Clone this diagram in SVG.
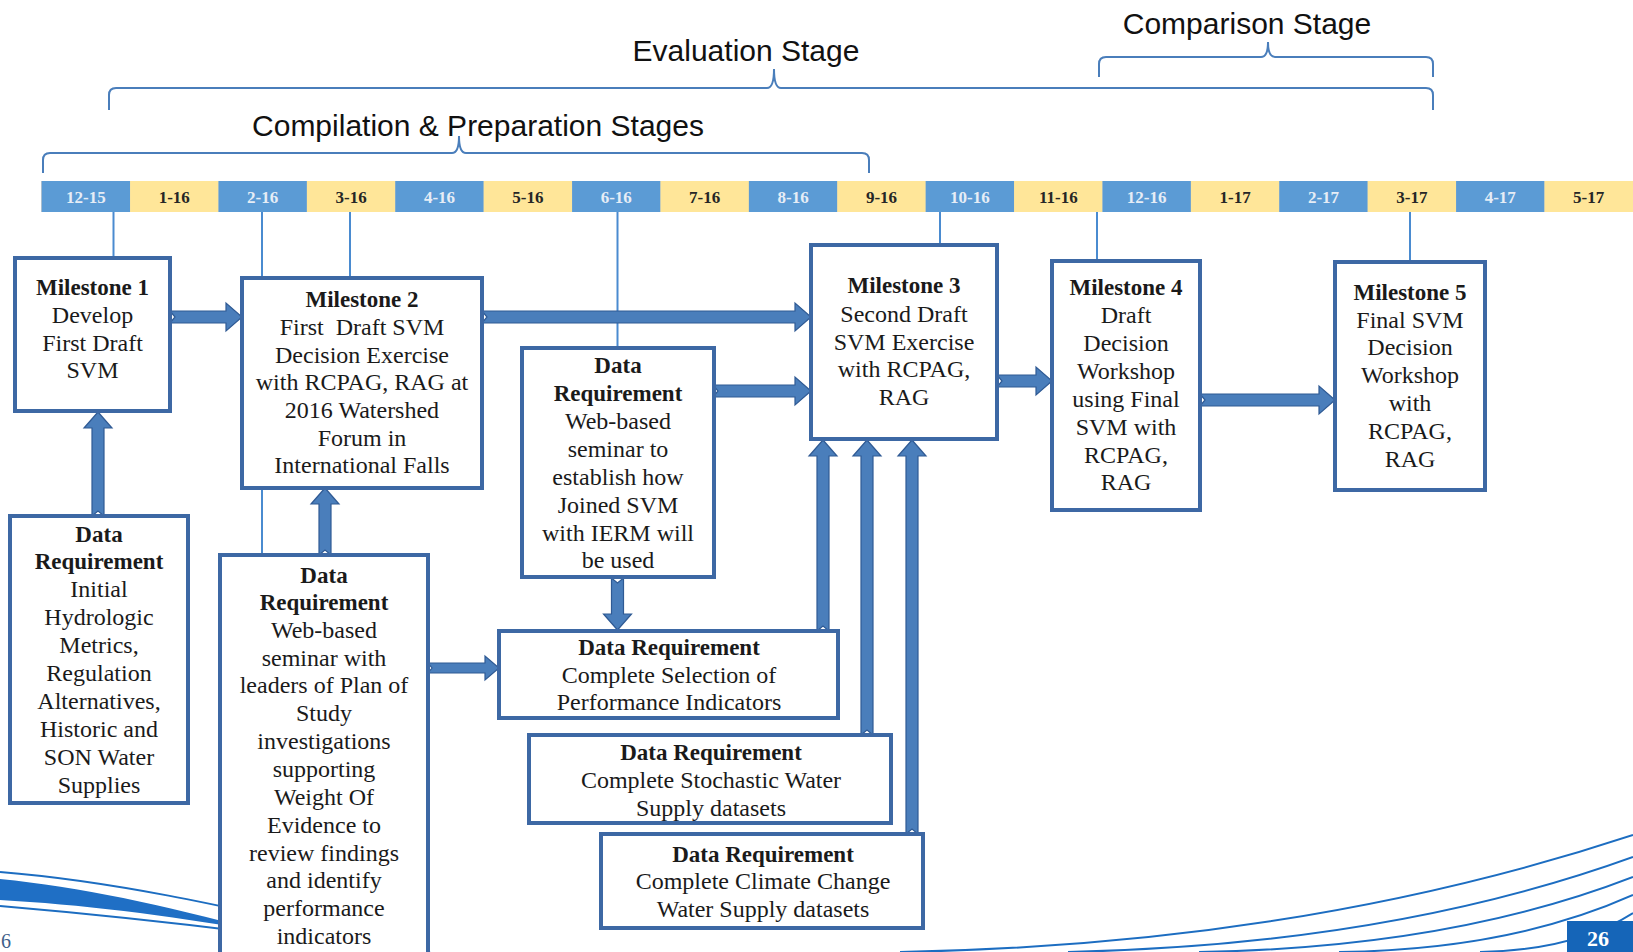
<svg xmlns="http://www.w3.org/2000/svg" width="1633" height="952" viewBox="0 0 1633 952">
<style>
.stage{font-family:"Liberation Sans",Arial,sans-serif;font-size:30px;fill:#111;text-anchor:middle}
.brace{fill:none;stroke:#4A7EBB;stroke-width:2}
.cb{fill:#5B9BD5}
.cy{fill:#FFE699}
.tb{font-family:"Liberation Serif",serif;font-weight:bold;font-size:17px;fill:#E6EDF6;text-anchor:middle}
.ty{font-family:"Liberation Serif",serif;font-weight:bold;font-size:17px;fill:#262626;text-anchor:middle}
.tick{stroke:#4A8BD0;stroke-width:2;fill:none}
.box{fill:#fff;stroke:#3D68A4;stroke-width:4}
.t{font-family:"Liberation Serif",serif;font-size:24px;fill:#1a1a1a;text-anchor:middle}
.b{font-weight:bold;font-size:23px}
.arr{fill:#4A7EBB;stroke:#2F5A94;stroke-width:1.2;stroke-linejoin:miter}
.sw{fill:none;stroke:#1C6DC1;stroke-width:2}
</style>

<g id="decor">
<path d="M0,879 C100,889 210,915 330,952 L365,952 C240,925 110,906 0,900 Z" fill="#1F6FC5"/>
<path class="sw" d="M0,872 C150,884 300,925 430,952"/>
<path class="sw" d="M0,906 C140,918 280,935 400,952" stroke-width="1.5"/>
<path class="sw" d="M900,952 Q1300,945 1633,835"/>
<path class="sw" d="M1068,952 Q1390,945 1633,857"/>
<path class="sw" d="M1199,952 Q1450,948 1633,877"/>
<path class="sw" d="M1339,952 Q1510,950 1633,895"/>
<path class="sw" d="M1480,952 Q1575,950 1633,913"/>
<rect x="1567" y="921" width="66" height="31" fill="#1565B8"/>
<text x="1598" y="946" font-family="Liberation Serif,serif" font-weight="bold" font-size="22" fill="#fff" text-anchor="middle">26</text>
<text x="1" y="948" font-family="Liberation Serif,serif" font-size="20" fill="#3F5F8A">6</text>
</g>

<g id="stages">
<text class="stage" x="746" y="61">Evaluation Stage</text>
<path class="brace" d="M109,110 L109,95 Q109,88 116,88 L767,88 Q774,88 774,69 Q774,88 781,88 L1426,88 Q1433,88 1433,95 L1433,110"/>
<text class="stage" x="1247" y="34">Comparison Stage</text>
<path class="brace" d="M1099,77 L1099,64 Q1099,57 1106,57 L1261,57 Q1268,57 1268,42 Q1268,57 1275,57 L1426,57 Q1433,57 1433,64 L1433,77"/>
<text class="stage" x="478" y="136">Compilation &amp; Preparation Stages</text>
<path class="brace" d="M43,173 L43,160 Q43,153 50,153 L452,153 Q459,153 459,136 Q459,153 466,153 L862,153 Q869,153 869,160 L869,173"/>
</g>

<g id="timeline">
<rect x="41" y="181" width="1592" height="31" fill="#ccc"/>
<rect class="cb" x="41.7" y="181" width="88.4" height="31"/>
<rect class="cy" x="130.1" y="181" width="88.4" height="31"/>
<rect class="cb" x="218.5" y="181" width="88.4" height="31"/>
<rect class="cy" x="306.9" y="181" width="88.4" height="31"/>
<rect class="cb" x="395.3" y="181" width="88.4" height="31"/>
<rect class="cy" x="483.7" y="181" width="88.4" height="31"/>
<rect class="cb" x="572.1" y="181" width="88.4" height="31"/>
<rect class="cy" x="660.5" y="181" width="88.4" height="31"/>
<rect class="cb" x="748.9" y="181" width="88.4" height="31"/>
<rect class="cy" x="837.3" y="181" width="88.4" height="31"/>
<rect class="cb" x="925.7" y="181" width="88.4" height="31"/>
<rect class="cy" x="1014.1" y="181" width="88.4" height="31"/>
<rect class="cb" x="1102.5" y="181" width="88.4" height="31"/>
<rect class="cy" x="1190.9" y="181" width="88.4" height="31"/>
<rect class="cb" x="1279.3" y="181" width="88.4" height="31"/>
<rect class="cy" x="1367.7" y="181" width="88.4" height="31"/>
<rect class="cb" x="1456.1" y="181" width="88.4" height="31"/>
<rect class="cy" x="1544.5" y="181" width="88.5" height="31"/>
<text class="tb" x="85.9" y="203">12-15</text>
<text class="ty" x="174.3" y="203">1-16</text>
<text class="tb" x="262.7" y="203">2-16</text>
<text class="ty" x="351.1" y="203">3-16</text>
<text class="tb" x="439.5" y="203">4-16</text>
<text class="ty" x="527.9" y="203">5-16</text>
<text class="tb" x="616.3" y="203">6-16</text>
<text class="ty" x="704.7" y="203">7-16</text>
<text class="tb" x="793.1" y="203">8-16</text>
<text class="ty" x="881.5" y="203">9-16</text>
<text class="tb" x="969.9" y="203">10-16</text>
<text class="ty" x="1058.3" y="203">11-16</text>
<text class="tb" x="1146.7" y="203">12-16</text>
<text class="ty" x="1235.1" y="203">1-17</text>
<text class="tb" x="1323.5" y="203">2-17</text>
<text class="ty" x="1411.9" y="203">3-17</text>
<text class="tb" x="1500.3" y="203">4-17</text>
<text class="ty" x="1588.7" y="203">5-17</text>
</g>

<g id="connectors">
<line class="tick" x1="113.5" y1="212" x2="113.5" y2="258"/>
<line class="tick" x1="262" y1="212" x2="262" y2="278"/>
<line class="tick" x1="350" y1="212" x2="350" y2="278"/>
<line class="tick" x1="262" y1="488" x2="262" y2="555"/>
<line class="tick" x1="617.5" y1="212" x2="617.5" y2="348"/>
<line class="tick" x1="940" y1="212" x2="940" y2="246"/>
<line class="tick" x1="1097" y1="212" x2="1097" y2="261"/>
<line class="tick" x1="1410" y1="212" x2="1410" y2="262"/>
<polygon class="arr" points="170,311 226,311 226,303 242,317 226,331 226,323 170,323 175,317"/>
<polygon class="arr" points="482,311 795,311 795,303 811,317 795,331 795,323 482,323 487,317"/>
<polygon class="arr" points="713,385 795,385 795,377 811,391 795,405 795,397 713,397 718,391"/>
<polygon class="arr" points="997,375 1036,375 1036,367 1052,381 1036,395 1036,387 997,387 1002,381"/>
<polygon class="arr" points="1200,394 1319,394 1319,386 1335,400 1319,414 1319,406 1200,406 1205,400"/>
<polygon class="arr" points="428,663 485,663 485,656 499,668 485,680 485,673 428,673 432,668"/>
<polygon class="arr" points="92,516 92,428 84,428 98,412 112,428 104,428 104,516 98,511"/>
<polygon class="arr" points="319,555 319,504 311,504 325,488 339,504 331,504 331,555 325,550"/>
<polygon class="arr" points="817,631 817,456 809,456 823,440 837,456 829,456 829,631 823,626"/>
<polygon class="arr" points="861,735 861,456 853,456 867,440 881,456 873,456 873,735 867,730"/>
<polygon class="arr" points="906,834 906,456 898,456 912,440 926,456 918,456 918,834 912,829"/>
<polygon class="arr" points="611.5,578 611.5,614 603.5,614 617.5,630 631.5,614 623.5,614 623.5,578 617.5,583"/>
</g>

<g id="m1">
<rect class="box" x="15" y="258" width="155" height="153"/>
<text class="t b" x="92.5" y="295">Milestone 1</text>
<text class="t" x="92.5" y="323">Develop</text>
<text class="t" x="92.5" y="351">First Draft</text>
<text class="t" x="92.5" y="378">SVM</text>
</g>

<g id="m2">
<rect class="box" x="242" y="278" width="240" height="210"/>
<text class="t b" x="362" y="307">Milestone 2</text>
<text class="t" x="362" y="335" xml:space="preserve">First  Draft SVM</text>
<text class="t" x="362" y="363">Decision Exercise</text>
<text class="t" x="362" y="390">with RCPAG, RAG at</text>
<text class="t" x="362" y="418">2016 Watershed</text>
<text class="t" x="362" y="446">Forum in</text>
<text class="t" x="362" y="473">International Falls</text>
</g>

<g id="m3">
<rect class="box" x="811" y="245" width="186" height="194"/>
<text class="t b" x="904" y="293">Milestone 3</text>
<text class="t" x="904" y="322">Second Draft</text>
<text class="t" x="904" y="350">SVM Exercise</text>
<text class="t" x="904" y="377">with RCPAG,</text>
<text class="t" x="904" y="405">RAG</text>
</g>

<g id="m4">
<rect class="box" x="1052" y="261" width="148" height="249"/>
<text class="t b" x="1126" y="295">Milestone 4</text>
<text class="t" x="1126" y="323">Draft</text>
<text class="t" x="1126" y="351">Decision</text>
<text class="t" x="1126" y="379">Workshop</text>
<text class="t" x="1126" y="407">using Final</text>
<text class="t" x="1126" y="435">SVM with</text>
<text class="t" x="1126" y="463">RCPAG,</text>
<text class="t" x="1126" y="490">RAG</text>
</g>

<g id="m5">
<rect class="box" x="1335" y="262" width="150" height="228"/>
<text class="t b" x="1410" y="300">Milestone 5</text>
<text class="t" x="1410" y="328">Final SVM</text>
<text class="t" x="1410" y="355">Decision</text>
<text class="t" x="1410" y="383">Workshop</text>
<text class="t" x="1410" y="411">with</text>
<text class="t" x="1410" y="439">RCPAG,</text>
<text class="t" x="1410" y="467">RAG</text>
</g>

<g id="dr1">
<rect class="box" x="10" y="516" width="178" height="287"/>
<text class="t b" x="99" y="542">Data</text>
<text class="t b" x="99" y="569">Requirement</text>
<text class="t" x="99" y="597">Initial</text>
<text class="t" x="99" y="625">Hydrologic</text>
<text class="t" x="99" y="653">Metrics,</text>
<text class="t" x="99" y="681">Regulation</text>
<text class="t" x="99" y="709">Alternatives,</text>
<text class="t" x="99" y="737">Historic and</text>
<text class="t" x="99" y="765">SON Water</text>
<text class="t" x="99" y="793">Supplies</text>
</g>

<g id="dr2">
<rect class="box" x="220" y="555" width="208" height="410"/>
<text class="t b" x="324" y="583">Data</text>
<text class="t b" x="324" y="610">Requirement</text>
<text class="t" x="324" y="638">Web-based</text>
<text class="t" x="324" y="666">seminar with</text>
<text class="t" x="324" y="693">leaders of Plan of</text>
<text class="t" x="324" y="721">Study</text>
<text class="t" x="324" y="749">investigations</text>
<text class="t" x="324" y="777">supporting</text>
<text class="t" x="324" y="805">Weight Of</text>
<text class="t" x="324" y="833">Evidence to</text>
<text class="t" x="324" y="861">review findings</text>
<text class="t" x="324" y="888">and identify</text>
<text class="t" x="324" y="916">performance</text>
<text class="t" x="324" y="944">indicators</text>
</g>

<g id="dr3">
<rect class="box" x="522" y="348" width="192" height="229"/>
<text class="t b" x="618" y="373">Data</text>
<text class="t b" x="618" y="401">Requirement</text>
<text class="t" x="618" y="429">Web-based</text>
<text class="t" x="618" y="457">seminar to</text>
<text class="t" x="618" y="485">establish how</text>
<text class="t" x="618" y="513">Joined SVM</text>
<text class="t" x="618" y="541">with IERM will</text>
<text class="t" x="618" y="568">be used</text>
</g>

<g id="dr4">
<rect class="box" x="499" y="631" width="339" height="87"/>
<text class="t b" x="669" y="655">Data Requirement</text>
<text class="t" x="669" y="683">Complete Selection of</text>
<text class="t" x="669" y="710">Performance Indicators</text>
</g>

<g id="dr5">
<rect class="box" x="529" y="735" width="362" height="88"/>
<text class="t b" x="711" y="760">Data Requirement</text>
<text class="t" x="711" y="788">Complete Stochastic Water</text>
<text class="t" x="711" y="816">Supply datasets</text>
</g>

<g id="dr6">
<rect class="box" x="601" y="834" width="322" height="94"/>
<text class="t b" x="763" y="862">Data Requirement</text>
<text class="t" x="763" y="889">Complete Climate Change</text>
<text class="t" x="763" y="917">Water Supply datasets</text>
</g>
</svg>
